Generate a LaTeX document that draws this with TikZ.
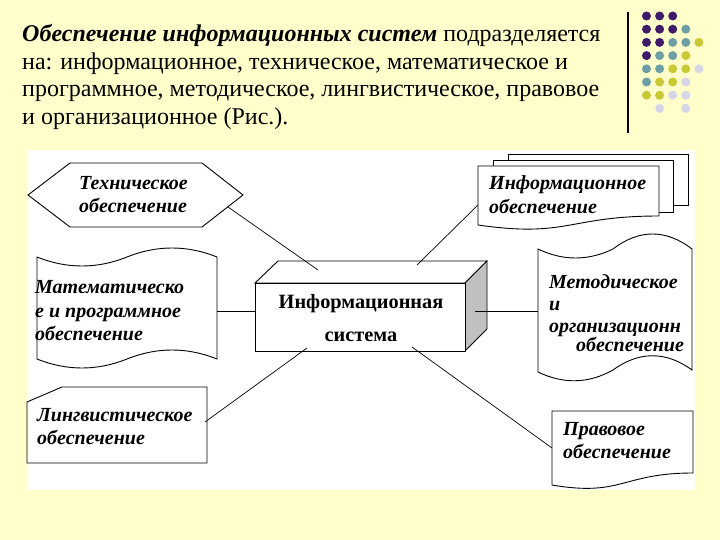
\documentclass[tikz,border=0pt]{standalone}
\usepackage{fontspec}
\setmainfont{Liberation Serif}
\definecolor{bgyellow}{HTML}{FFFFCC}
\definecolor{dpurple}{HTML}{3F1A68}
\definecolor{dteal}{HTML}{6E9FA6}
\definecolor{dyellow}{HTML}{C9C835}
\definecolor{dlav}{HTML}{D6D6E8}
\definecolor{sidegray}{HTML}{C0C0C0}
\begin{document}
\begin{tikzpicture}[x=1pt,y=-1pt,
  shp/.style={draw=black, line width=0.9pt, fill=white},
  con/.style={draw=black, line width=0.7pt},
  lbl/.style={font=\fontsize{20}{23}\selectfont\bfseries\itshape, align=left, inner sep=0pt},
  ttl/.style={font=\fontsize{24}{27}\selectfont, anchor=base west, inner sep=0pt},
  dot/.style={circle, inner sep=0pt, minimum size=9pt}]
\useasboundingbox (0,0) rectangle (720,540);
\fill[bgyellow] (0,0) rectangle (720,540);
\fill[white] (27,150) rectangle (695,490);

% title
\node[ttl] (t1) at (22,42) {\textbf{\textit{Обеспечение информационных систем}} подразделяется};
\node[ttl] (t2) at (22,69.5) {на: информационное, техническое, математическое и};
\node[ttl] (t3) at (22,97) {программное, методическое, лингвистическое, правовое};
\node[ttl] (t4) at (22,124.5) {и организационное (Рис.).};

% decoration
\coordinate (vl1) at (628,12);
\coordinate (vl2) at (628,133);
\draw[line width=1.3pt] (vl1) -- (vl2);
\foreach \c/\x/\y [count=\i] in {
  dpurple/0/0, dpurple/1/0, dpurple/2/0,
  dpurple/0/1, dpurple/1/1, dpurple/2/1, dteal/3/1,
  dpurple/0/2, dpurple/1/2, dteal/2/2, dteal/3/2, dyellow/4/2,
  dpurple/0/3, dteal/1/3, dteal/2/3, dyellow/3/3,
  dteal/0/4, dteal/1/4, dyellow/2/4, dyellow/3/4, dlav/4/4,
  dteal/0/5, dyellow/1/5, dyellow/2/5, dlav/3/5,
  dyellow/0/6, dyellow/1/6, dlav/2/6, dlav/3/6,
  dlav/1/7, dlav/3/7}
  \node[dot, fill=\c] (d\i) at ({646.5+13.1*\x},{16+13.2*\y}) {};

% hexagon: technical
\draw[shp] (28,195) -- (70,163) -- (202,163) -- (243,195) -- (202,227) -- (70,227) -- cycle;
\node[lbl, anchor=west] (tech) at (79,195) {Техническое\\обеспечение};

% 3D box: information system
\draw[shp] (255,283) -- (278,261) -- (487,261) -- (465,283) -- cycle;
\draw[shp, fill=sidegray] (465,283) -- (487,261) -- (487,329) -- (465,351) -- cycle;
\draw[shp] (255,283) rectangle (465,351);
\node[font=\fontsize{20.3}{33}\selectfont\bfseries, align=center, inner sep=0pt] (sys) at (361,318) {Информационная\\система};

% multidocument: information
\draw[shp] (508,154) rectangle (688,205);
\draw[shp] (493,160) rectangle (673,212);
\draw[shp] (478,166) -- (659,166) -- (659,216) .. controls (568,216) and (568,238) .. (478,225) -- cycle;
\node[lbl, anchor=west, font=\fontsize{20}{24}\selectfont\bfseries\itshape] (info) at (489,195) {Информационное\\обеспечение};

% punched tape: math
\draw[shp] (37,257) .. controls (67,269) and (97,269) .. (127,257)
  .. controls (157,245) and (187,245) .. (217,257) -- (217,359)
  .. controls (187,347) and (157,347) .. (127,359)
  .. controls (97,371) and (67,371) .. (37,359) -- cycle;
\node[lbl, anchor=west, font=\fontsize{20}{23.5}\selectfont\bfseries\itshape] (math) at (35,311) {Математическо\\е и программное\\обеспечение};

% punched tape: methodical
\draw[shp] (538,249) .. controls (563,261) and (588,261) .. (613,249)
  .. controls (639,229) and (666,229) .. (692,249) -- (692,370)
  .. controls (666,351) and (639,351) .. (613,370)
  .. controls (588,384) and (563,384) .. (538,372) -- cycle;
\node[lbl, anchor=west, font=\fontsize{20}{22}\selectfont\bfseries\itshape] (meth) at (549,313) {Методическое\\и\\организационн\\[-2.5pt]\hspace*{27pt}обеспечение};

% linguistic
\draw[shp] (62,387) -- (207,387) -- (207,463) -- (27,463) -- (27,402) -- cycle;
\node[lbl, anchor=west] (ling) at (37,427) {Лингвистическое\\обеспечение};

% legal
\draw[shp] (552,411) -- (693,411) -- (693,473) .. controls (622,473) and (622,497) .. (552,485) -- cycle;
\node[lbl, anchor=west] (law) at (563,441) {Правовое\\обеспечение};

% connectors
\coordinate (h1) at (228,207);  \coordinate (h2) at (318,270);
\coordinate (l1) at (217,311);  \coordinate (l2) at (255,311);
\coordinate (r1) at (475,311);  \coordinate (r2) at (538,311);
\coordinate (i1) at (417,265);  \coordinate (i2) at (478,205);
\coordinate (g1) at (205,422);  \coordinate (g2) at (307,348);
\coordinate (p1) at (412,347);  \coordinate (p2) at (552,448);
\draw[con] (h1) -- (h2);
\draw[con] (l1) -- (l2);
\draw[con] (r1) -- (r2);
\draw[con] (i1) -- (i2);
\draw[con] (g1) -- (g2);
\draw[con] (p1) -- (p2);
\end{tikzpicture}
\end{document}
